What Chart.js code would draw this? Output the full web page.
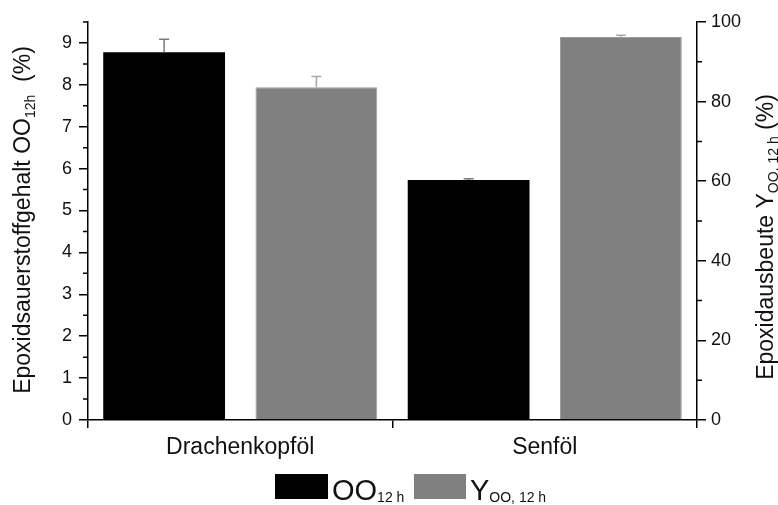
<!DOCTYPE html>
<html><head><meta charset="utf-8">
<script src="https://cdn.jsdelivr.net/npm/chart.js@4/dist/chart.umd.min.js"></script>
<style>html,body{margin:0;padding:0;background:#fff;}#wrap{width:778px;height:505px;}</style>
</head><body><div id="wrap"><canvas id="c" width="778" height="505"></canvas></div>
<script>
const categories = ['Drachenkopföl', 'Senföl'];
const ooValues = [8.78, 5.73];
const ooErrors = [0.31, 0.03];
const yValues = [83.6, 96.2];
const yErrors = [2.7, 0.5];
const leftTicks = [0, 1, 2, 3, 4, 5, 6, 7, 8, 9];
const leftMinorTicks = [0.5, 1.5, 2.5, 3.5, 4.5, 5.5, 6.5, 7.5, 8.5, 9.5];
const rightTicks = [0, 20, 40, 60, 80, 100];
const rightMinorTicks = [10, 30, 50, 70, 90];
const legendMain = ['OO', 'Y'];
const legendSub = ['12 h', 'OO, 12 h'];
const leftTitle = ['Epoxidsauerstoffgehalt OO', '12h', '  (%)'];
const rightTitle = ['Epoxidausbeute Y', 'OO, 12 h', ' (%)'];

const FONT = '"Liberation Sans", Arial, Helvetica, sans-serif';

function drawRotTitle(ctx, parts, baseX, cy, mainSize, subSize, subShift) {
  ctx.save();
  ctx.translate(baseX, cy);
  ctx.rotate(-Math.PI / 2);
  ctx.fillStyle = '#111';
  ctx.textBaseline = 'alphabetic';
  ctx.textAlign = 'left';
  ctx.font = mainSize + 'px ' + FONT;
  const w1 = ctx.measureText(parts[0]).width;
  const w3 = ctx.measureText(parts[2]).width;
  ctx.font = subSize + 'px ' + FONT;
  const w2 = ctx.measureText(parts[1]).width;
  let x = -(w1 + w2 + w3) / 2;
  ctx.font = mainSize + 'px ' + FONT;
  ctx.fillText(parts[0], x, 0);
  x += w1;
  ctx.font = subSize + 'px ' + FONT;
  ctx.fillText(parts[1], x, subShift);
  x += w2;
  ctx.font = mainSize + 'px ' + FONT;
  ctx.fillText(parts[2], x, 0);
  ctx.restore();
}

const extras = {
  id: 'extras',
  afterDatasetsDraw(chart) {
    const ctx = chart.ctx;
    const sets = [
      { idx: 0, vals: ooValues, errs: ooErrors, axis: 'y', color: '#7a7a7a' },
      { idx: 1, vals: yValues, errs: yErrors, axis: 'y1', color: '#a8a8a8' }
    ];
    ctx.save();
    ctx.lineWidth = 1.5;
    sets.forEach(s => {
      const meta = chart.getDatasetMeta(s.idx);
      const sc = chart.scales[s.axis];
      meta.data.forEach((bar, i) => {
        const yTop = sc.getPixelForValue(s.vals[i]);
        const yErr = sc.getPixelForValue(s.vals[i] + s.errs[i]);
        ctx.strokeStyle = s.color;
        ctx.beginPath();
        ctx.moveTo(bar.x, yTop);
        ctx.lineTo(bar.x, yErr);
        ctx.moveTo(bar.x - 5, yErr);
        ctx.lineTo(bar.x + 5, yErr);
        ctx.stroke();
      });
    });
    ctx.restore();
  },
  afterDraw(chart) {
    const ctx = chart.ctx;
    const ys = chart.scales.y, yr = chart.scales.y1;
    ctx.save();
    ctx.strokeStyle = '#000';
    ctx.lineWidth = 1.5;
    ctx.beginPath();
    leftMinorTicks.forEach(v => {
      const p = ys.getPixelForValue(v);
      ctx.moveTo(ys.right, p);
      ctx.lineTo(ys.right - 5, p);
    });
    rightMinorTicks.forEach(v => {
      const p = yr.getPixelForValue(v);
      ctx.moveTo(yr.left, p);
      ctx.lineTo(yr.left + 5, p);
    });
    ctx.stroke();
    ctx.restore();

    const ca = chart.chartArea;
    const cyMid = (ca.top + ca.bottom) / 2;
    drawRotTitle(ctx, leftTitle, 30, cyMid - 1, 23, 14, 5);
    drawRotTitle(ctx, rightTitle, 773, cyMid + 16, 23, 14, 5);

    // legend
    const colors = ['#000000', '#808080'];
    const boxX = [275, 414];
    const boxW = [53, 52];
    ctx.save();
    ctx.textBaseline = 'alphabetic';
    ctx.textAlign = 'left';
    ctx.fillStyle = '#111';
    for (let i = 0; i < 2; i++) {
      ctx.fillStyle = colors[i];
      ctx.fillRect(boxX[i], 474, boxW[i], 25);
      ctx.fillStyle = '#111';
      ctx.font = '29px ' + FONT;
      const tx = boxX[i] + boxW[i] + 4;
      ctx.fillText(legendMain[i], tx, 499.5);
      const w = ctx.measureText(legendMain[i]).width;
      ctx.font = '14px ' + FONT;
      ctx.fillText(legendSub[i], tx + w, 502);
    }
    ctx.restore();
  }
};

new Chart(document.getElementById('c'), {
  type: 'bar',
  data: {
    labels: categories,
    datasets: [
      { label: 'OO 12 h', data: ooValues, backgroundColor: '#000000', borderWidth: 0, yAxisID: 'y' },
      { label: 'Y OO, 12 h', data: yValues, backgroundColor: '#808080', borderColor: '#9c9c9c', borderWidth: 1, yAxisID: 'y1' }
    ]
  },
  options: {
    responsive: false,
    animation: false,
    layout: { padding: { top: 22, left: 0, right: 0, bottom: 0 } },
    datasets: { bar: { barPercentage: 0.8, categoryPercentage: 1.0 } },
    plugins: { legend: { display: false }, tooltip: { enabled: false } },
    scales: {
      x: {
        offset: true,
        grid: { display: true, drawOnChartArea: false, drawTicks: true, tickLength: 8, color: '#000', lineWidth: 1.5, offset: true },
        border: { display: true, color: '#000', width: 1.5 },
        ticks: { font: { family: FONT, size: 23 }, color: '#111', padding: 6, maxRotation: 0 },
        afterFit(s) { s.height = 85; }
      },
      y: {
        position: 'left', min: 0, max: 9.5,
        afterBuildTicks(s) { s.ticks = leftTicks.map(v => ({ value: v })); },
        grid: { display: true, drawOnChartArea: false, drawTicks: true, tickLength: 9, color: '#000', lineWidth: 1.5 },
        border: { display: true, color: '#000', width: 1.5 },
        ticks: { font: { family: FONT, size: 18 }, color: '#111', padding: 7, autoSkip: false },
        afterFit(s) { s.width = 88; }
      },
      y1: {
        position: 'right', min: 0, max: 100,
        afterBuildTicks(s) { s.ticks = rightTicks.map(v => ({ value: v })); },
        grid: { display: true, drawOnChartArea: false, drawTicks: true, tickLength: 9, color: '#000', lineWidth: 1.5 },
        border: { display: true, color: '#000', width: 1.5 },
        ticks: { font: { family: FONT, size: 18 }, color: '#111', padding: 5, autoSkip: false },
        afterFit(s) { s.width = 81; }
      }
    }
  },
  plugins: [extras]
});
</script>
</body></html>
